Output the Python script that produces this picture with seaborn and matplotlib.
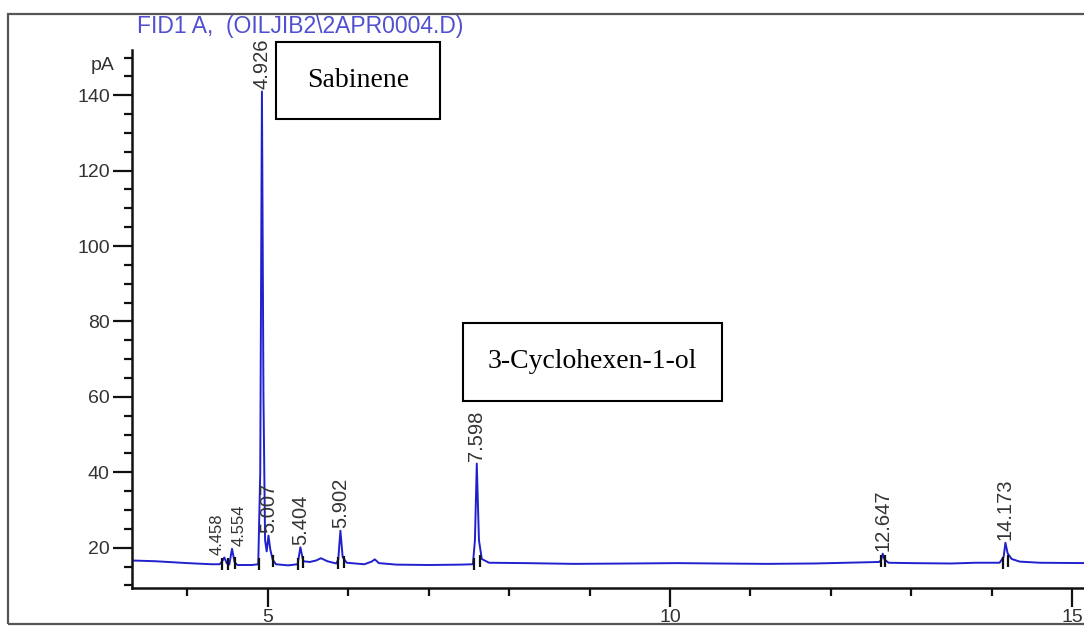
import numpy as np
import pandas as pd
import matplotlib
matplotlib.use("Agg")
import matplotlib.pyplot as plt
from matplotlib.ticker import MultipleLocator, FixedLocator
from matplotlib.patches import Rectangle
import seaborn as sns

# ---- data ----
time_min = [3.30, 3.60, 4.00, 4.30, 4.40, 4.43, 4.458, 4.49, 4.52, 4.554, 4.585, 4.62,
            4.80, 4.88, 4.905, 4.926, 4.945, 4.965, 4.985, 5.007, 5.03, 5.06, 5.10,
            5.25, 5.37, 5.404, 5.44, 5.52, 5.60, 5.66, 5.74, 5.85, 5.875, 5.902, 5.93,
            5.98, 6.20, 6.29, 6.33, 6.38, 6.60, 7.00, 7.40, 7.55, 7.575, 7.598, 7.625,
            7.66, 7.75, 8.20, 8.80, 9.50, 10.10, 10.60, 11.20, 11.80, 12.20, 12.60,
            12.625, 12.647, 12.67, 12.72, 13.00, 13.50, 13.80, 14.10, 14.15, 14.173,
            14.20, 14.25, 14.35, 14.60, 15.20]
signal_pA = [16.6, 16.4, 15.9, 15.6, 15.6, 16.3, 17.4, 15.8, 15.5, 19.7, 16.2, 15.4,
             15.4, 15.6, 40.0, 141.0, 60.0, 22.0, 19.0, 23.2, 19.5, 16.8, 15.6,
             15.3, 15.6, 20.1, 16.4, 16.2, 16.6, 17.2, 16.4, 15.8, 16.8, 24.5, 17.5,
             16.0, 15.6, 16.3, 16.9, 15.9, 15.5, 15.4, 15.5, 15.6, 22.0, 42.3, 22.0,
             17.0, 16.0, 15.9, 15.7, 15.8, 15.9, 15.8, 15.7, 15.8, 16.0, 16.2,
             16.6, 18.4, 16.8, 16.0, 15.9, 15.8, 16.0, 16.0, 17.5, 21.3,
             18.5, 17.0, 16.3, 16.0, 15.9]

peak_rt = [4.458, 4.554, 4.926, 5.007, 5.404, 5.902, 7.598, 12.647, 14.173]
peak_height = [17.4, 19.7, 141.0, 23.2, 20.1, 24.5, 42.3, 18.4, 21.3]
peak_labels = ["4.458", "4.554", "4.926", "5.007", "5.404", "5.902", "7.598", "12.647", "14.173"]

event_times = [4.43, 4.50, 4.585, 4.885, 5.06, 5.37, 5.44, 5.875, 5.95, 7.56, 7.64,
               12.63, 12.68, 14.14, 14.21]
event_levels = [15.6, 15.6, 15.8, 15.6, 16.5, 15.6, 16.2, 15.9, 16.2, 15.6, 16.5,
                16.4, 16.4, 16.0, 16.5]

compound_names = ["Sabinene", "3-Cyclohexen-1-ol"]
title_text = r"FID1 A,  (OILJIB2\2APR0004.D)"
y_unit = "pA"

df = pd.DataFrame({"time": time_min, "signal": signal_pA})

# ---- figure ----
sns.set_style("white")
plt.rcParams["font.family"] = ["Liberation Sans", "DejaVu Sans"]

W, H = 1084, 626
fig = plt.figure(figsize=(W / 100, H / 100), dpi=100)
ax = fig.add_axes([132 / W, 1 - 588 / H, 1 - 132 / W, (588 - 50) / H])

sns.lineplot(data=df, x="time", y="signal", ax=ax, color="#2020cc",
             linewidth=1.4, estimator=None, sort=False)

ax.set_xlim(3.31, 15.15)
ax.set_ylim(9.3, 152)

# baseline event markers
ax.plot(event_times, event_levels, linestyle="none", marker="|",
        markersize=9, markeredgewidth=1.6, color="#111111")

# peak labels (the two crowded early labels are slightly smaller and nudged apart)
for i, (rt, h, lab) in enumerate(zip(peak_rt, peak_height, peak_labels)):
    if i == 0:
        dx, fs = -5, 12
    elif i == 1:
        dx, fs = 5, 12
    else:
        dx, fs = 0, 14.5
    ax.annotate(lab, xy=(rt, h), xytext=(dx, 2), textcoords="offset points",
                rotation=90, ha="center", va="bottom", fontsize=fs,
                color="#333333")

# axes styling
for s in ["top", "right"]:
    ax.spines[s].set_visible(False)
for s in ["left", "bottom"]:
    ax.spines[s].set_color("#111111")
    ax.spines[s].set_linewidth(1.8)

ax.xaxis.set_major_locator(FixedLocator([5, 10, 15]))
ax.xaxis.set_minor_locator(MultipleLocator(1))
ax.yaxis.set_major_locator(MultipleLocator(20))
ax.yaxis.set_minor_locator(MultipleLocator(5))
ax.tick_params(which="both", bottom=True, left=True, top=False, right=False,
               direction="out")
ax.tick_params(axis="x", which="major", length=14, width=1.6, color="#111111",
               labelsize=14, labelcolor="#333333", pad=1)
ax.tick_params(axis="x", which="minor", length=6, width=1.6, color="#111111")
ax.tick_params(axis="y", which="major", length=14, width=1.6, color="#111111",
               labelsize=14, labelcolor="#333333", pad=2)
ax.tick_params(axis="y", which="minor", length=6, width=1.6, color="#111111")
ax.set_xlabel("")
ax.set_ylabel("")
ax.grid(False)

# unit label above the y axis
ax.text(-0.018, 148, y_unit, transform=ax.get_yaxis_transform(), ha="right",
        va="center", fontsize=14, color="#333333")

# title
fig.text(300 / W, 1 - 33 / H, title_text, ha="center", va="baseline",
         fontsize=16.5, color="#5050d0")

# outer frame
fig.patches.append(Rectangle((8 / W, 1 - 624 / H), 1.2, (624 - 14) / H,
                             transform=fig.transFigure, fill=False,
                             edgecolor="#555555", linewidth=1.6, zorder=10))

# compound boxes
boxes = [(276, 42, 440, 119), (463, 323, 722, 401)]
for (x0, y0, x1, y1), name in zip(boxes, compound_names):
    fig.patches.append(Rectangle((x0 / W, 1 - y1 / H), (x1 - x0) / W, (y1 - y0) / H,
                                 transform=fig.transFigure, facecolor="white",
                                 edgecolor="black", linewidth=1.5, zorder=11))
    fig.text((x0 + x1) / 2 / W, 1 - (y0 + y1) / 2 / H, name, ha="center",
             va="center", fontsize=20, family=["Liberation Serif", "DejaVu Serif"],
             color="black", zorder=12)

fig.savefig("out.png", dpi=100)
